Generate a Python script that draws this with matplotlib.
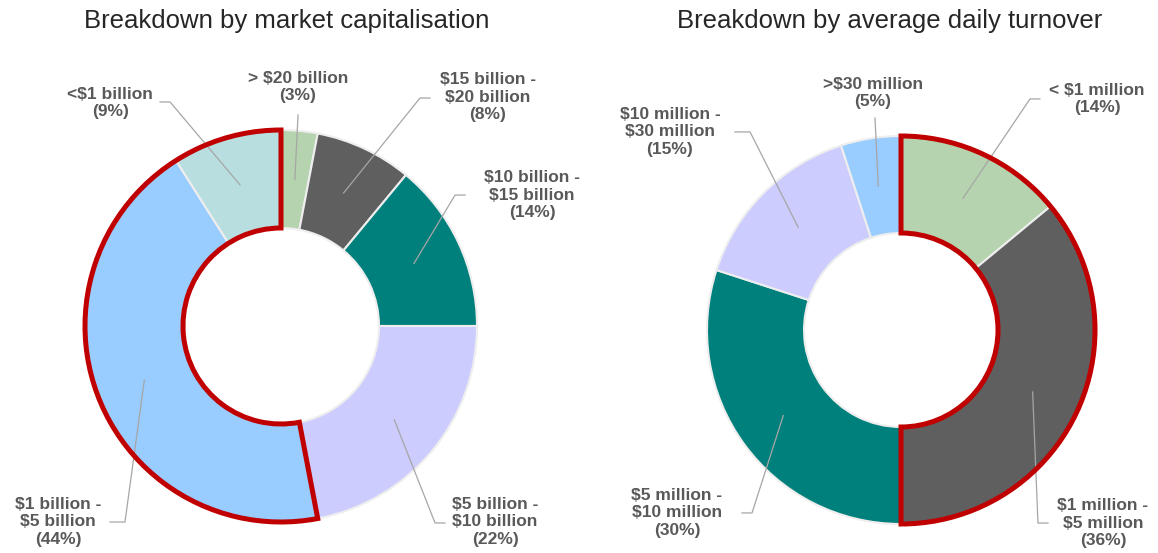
import numpy as np
import matplotlib
matplotlib.use("Agg")
import matplotlib.pyplot as plt
from matplotlib.patches import Wedge

plt.rcParams['font.family'] = ['Liberation Sans', 'DejaVu Sans']

W, H = 1158, 553

# left chart: market capitalisation (clockwise from 12 o'clock)
cap_labels = ["> $20 billion\n(3%)", "$15 billion -\n$20 billion\n(8%)",
              "$10 billion -\n$15 billion\n(14%)", "$5 billion -\n$10 billion\n(22%)",
              "$1 billion -\n$5 billion\n(44%)", "<$1 billion\n(9%)"]
cap_values = [3, 8, 14, 22, 44, 9]
cap_colors = ["#b5d3ae", "#5f5f5f", "#00807c", "#ccccff", "#99ccff", "#b8dee0"]
cap_highlight = [4, 5]

# right chart: average daily turnover (clockwise from 12 o'clock)
turn_labels = ["< $1 million\n(14%)", "$1 million -\n$5 million\n(36%)",
               "$5 million -\n$10 million\n(30%)", "$10 million -\n$30 million\n(15%)",
               ">$30 million\n(5%)"]
turn_values = [14, 36, 30, 15, 5]
turn_colors = ["#b5d3ae", "#5f5f5f", "#00807c", "#ccccff", "#99ccff"]
turn_highlight = [0, 1]

# label layout in donut units: text centre, leader start, elbow
cap_layout = [((0.087, 1.219), (0.087, 1.077), None),
              ((1.056, 1.168), (0.760, 1.163), (0.709, 1.163)),
              ((1.281, 0.668), (0.939, 0.668), (0.888, 0.668)),
              ((1.092, -1.000), (0.837, -1.005), (0.786, -1.005)),
              ((-1.138, -1.000), (-0.872, -1.000), (-0.796, -1.000)),
              ((-0.872, 1.138), (-0.617, 1.143), (-0.566, 1.143))]
turn_layout = [((1.010, 1.191), (0.716, 1.191), (0.665, 1.191)),
               ((1.041, -0.995), (0.758, -0.995), (0.706, -0.995)),
               ((-1.155, -0.943), (-0.820, -0.943), (-0.768, -0.943)),
               ((-1.191, 1.021), (-0.856, 1.021), (-0.778, 1.021)),
               ((-0.144, 1.222), (-0.134, 1.093), None)]

fig = plt.figure(figsize=(W / 100, H / 100), dpi=100)


def donut(cx, cy, r, values, colors, labels, layout, highlight, title, tx):
    L = 1.5
    ax = fig.add_axes([(cx - L * r) / W, (H - (cy + L * r)) / H,
                       2 * L * r / W, 2 * L * r / H])
    ax.pie(values, colors=colors, startangle=90, counterclock=False, radius=1.0,
           wedgeprops=dict(width=0.5, edgecolor="#eeeeee", linewidth=1.5))
    ax.set_aspect('auto')
    ax.set_xlim(-L, L)
    ax.set_ylim(-L, L)
    ax.axis('off')

    total = float(sum(values))
    cum = np.cumsum([0] + list(values))
    for i, (lab, (tpos, start, elbow)) in enumerate(zip(labels, layout)):
        mid = np.radians(90 - (cum[i] + values[i] / 2) / total * 360)
        ex, ey = 0.75 * np.cos(mid), 0.75 * np.sin(mid)
        xs, ys = [start[0]], [start[1]]
        if elbow is not None:
            xs.append(elbow[0])
            ys.append(elbow[1])
        xs.append(ex)
        ys.append(ey)
        ax.plot(xs, ys, color="#a6a6a6", lw=0.9, clip_on=False, zorder=3)
        ax.text(tpos[0], tpos[1], lab, ha='center', va='center', fontsize=12.5,
                fontweight='bold', color="#595959", linespacing=1.22)

    # red outline around highlighted slices
    a0 = 90 - cum[highlight[0]] / total * 360
    a1 = 90 - cum[highlight[-1] + 1] / total * 360
    ax.add_patch(Wedge((0, 0), 1.0, min(a0, a1), max(a0, a1), width=0.5,
                       fill=False, edgecolor="#c00000", linewidth=3.6,
                       joinstyle='miter', zorder=4))

    fig.text(tx / W, 1 - 28 / H, title, ha='center', va='baseline',
             fontsize=18.5, color="#262626")


donut(281, 326, 196, cap_values, cap_colors, cap_labels, cap_layout,
      cap_highlight, "Breakdown by market capitalisation", 287)
donut(901, 330, 194, turn_values, turn_colors, turn_labels, turn_layout,
      turn_highlight, "Breakdown by average daily turnover", 890)

fig.savefig("out.png", dpi=100)
